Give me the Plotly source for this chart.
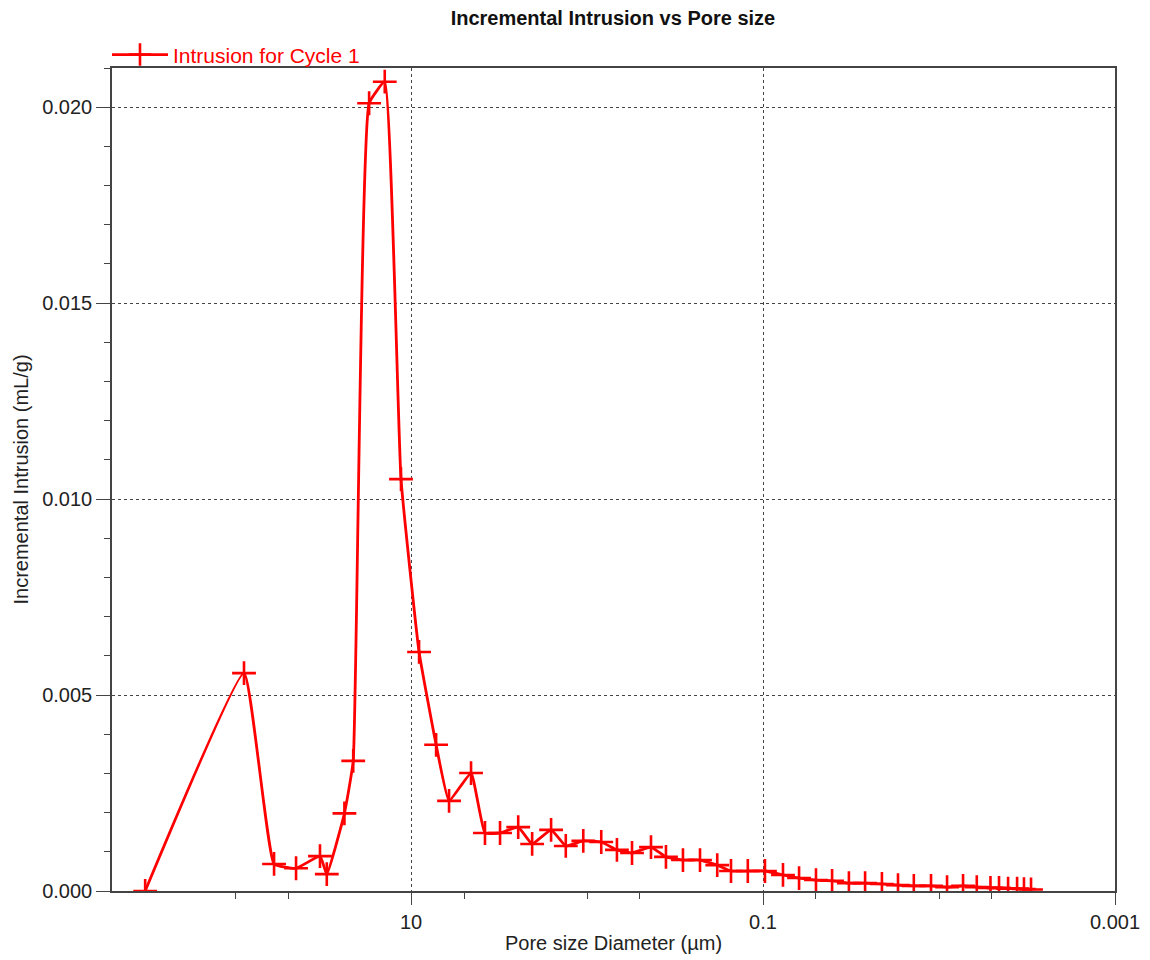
import plotly.graph_objects as go

# Mercury intrusion, cycle 1: pore diameter (µm) and incremental intrusion (mL/g)
pore_diameter_um = [
    324, 88.9, 60.0, 45.0, 32.9, 30.1, 23.9, 21.3, 17.3, 14.1,
    11.4, 9.0, 7.2, 6.08, 4.56, 3.80, 3.12, 2.46, 2.05, 1.60,
    1.32, 1.05, 0.83, 0.676, 0.555, 0.433, 0.356, 0.285, 0.228, 0.182,
    0.152, 0.122, 0.0975, 0.0770, 0.0624, 0.0500, 0.0405, 0.0325, 0.0263, 0.0211,
    0.0171, 0.0139, 0.0111, 0.0090, 0.0073, 0.0061, 0.0051, 0.00456, 0.00405, 0.0036,
    0.00329, 0.0030,
]
incremental_intrusion = [
    0.0, 0.00556, 0.00069, 0.00058, 0.00089, 0.00043, 0.00198, 0.00332, 0.0201, 0.02065,
    0.01051, 0.0061, 0.00373, 0.0023, 0.00301, 0.00148, 0.00148, 0.00163, 0.0012, 0.00156,
    0.00115, 0.00128, 0.00125, 0.00105, 0.00097, 0.00112, 0.00087, 0.00079, 0.00079, 0.00066,
    0.00051, 0.00051, 0.00051, 0.00041, 0.00033, 0.00028, 0.00026, 0.0002, 0.0002, 0.00018,
    0.00015, 0.00013, 0.00013, 0.0001, 0.00013, 0.0001, 0.00008, 0.00008, 0.00006, 0.00006,
    0.00005, 0.00004,
]

x_tick_values = [10, 0.1, 0.001]
x_tick_labels = ["10", "0.1", "0.001"]
x_minor_values = [100, 50, 10, 5, 1, 0.5, 0.1, 0.05, 0.01, 0.005, 0.001]

RED = "#ff0000"
AXIS = "#444444"
FONT = "Liberation Sans, Arial, sans-serif"

fig = go.Figure()
fig.add_trace(go.Scatter(
    x=pore_diameter_um,
    y=incremental_intrusion,
    mode="lines+markers",
    name="Intrusion for Cycle 1",
    line=dict(color=RED, width=2.8, shape="spline", smoothing=0.35),
    marker=dict(symbol="cross-thin", size=17, line=dict(color=RED, width=2.6)),
))

fig.update_layout(
    width=1150,
    height=960,
    margin=dict(l=112, r=35, t=68, b=69),
    paper_bgcolor="white",
    plot_bgcolor="white",
    font=dict(family=FONT, size=20, color="#222222"),
    title=dict(
        text="<b>Incremental Intrusion vs Pore size</b>",
        x=0.533, xanchor="center", y=0.981, yanchor="middle",
        font=dict(family=FONT, size=20, color="#111111"),
    ),
    showlegend=True,
    legend=dict(
        x=-0.005, y=0.991, xanchor="left", yanchor="bottom",
        bgcolor="rgba(0,0,0,0)",
        font=dict(family=FONT, size=21, color=RED),
        itemwidth=56,
    ),
    xaxis=dict(
        type="log",
        range=[2.699, -3],
        tickmode="array",
        tickvals=x_tick_values,
        ticktext=x_tick_labels,
        ticks="outside",
        ticklen=12,
        tickcolor=AXIS,
        tickfont=dict(size=20),
        showline=True,
        linecolor=AXIS,
        linewidth=1.5,
        mirror=True,
        showgrid=True,
        gridcolor="#444444",
        griddash="dot",
        gridwidth=1,
        zeroline=False,
        automargin=False,
        minor=dict(tickmode="array", tickvals=x_minor_values, ticks="outside",
                   ticklen=6, tickcolor=AXIS, showgrid=False),
        title=dict(text="Pore size Diameter (µm)", standoff=4,
                   font=dict(family=FONT, size=20, color="#222222")),
    ),
    yaxis=dict(
        range=[0, 0.021],
        tickmode="linear",
        tick0=0,
        dtick=0.005,
        tickformat=".3f",
        ticks="outside",
        ticklen=14,
        tickcolor=AXIS,
        tickfont=dict(size=20),
        showline=True,
        linecolor=AXIS,
        linewidth=1.5,
        mirror=True,
        showgrid=True,
        gridcolor="#444444",
        griddash="dot",
        gridwidth=1,
        zeroline=False,
        automargin=False,
        minor=dict(dtick=0.001, ticks="outside", ticklen=6, tickcolor=AXIS,
                   showgrid=False),
        title=dict(text="Incremental Intrusion (mL/g)", standoff=8,
                   font=dict(family=FONT, size=20, color="#222222")),
    ),
)

fig.write_html("out.html")
